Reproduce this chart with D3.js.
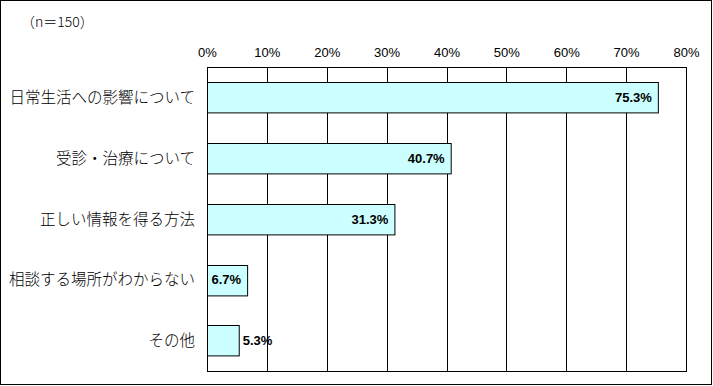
<!DOCTYPE html>
<html>
<head>
<meta charset="utf-8">
<script src="https://cdn.jsdelivr.net/npm/d3@7"></script>
<style>
  body { margin: 0; background: #fff; }
  svg text { font-family: "Noto Sans CJK JP", "Noto Sans", sans-serif; }
</style>
</head>
<body>
<script>
var categories = [ "日常生活への影響について", "受診・治療について", "正しい情報を得る方法", "相談する場所がわからない", "その他" ];
var values = [ 75.3, 40.7, 31.3, 6.7, 5.3 ];
var tickValues = [ 0, 10, 20, 30, 40, 50, 60, 70, 80 ];
var note = "（n＝150）";

var W = 713, H = 386;
var plotL = 207, plotR = 686, plotT = 67, plotB = 371;

var svg = d3.select( "body" )
  .append( "svg" )
  .attr( "width", W )
  .attr( "height", H );

svg.append( "rect" )
  .attr( "x", 0.5 ).attr( "y", 0.5 )
  .attr( "width", W - 2 ).attr( "height", H - 2 )
  .attr( "fill", "#fff" ).attr( "stroke", "#000" );

var x = d3.scaleLinear().domain( [ 0, 80 ] ).range( [ plotL, plotR ] );
var y = d3.scaleBand().domain( categories ).range( [ plotT, plotB ] ).paddingInner( 0.5 ).paddingOuter( 0.25 );

// grid
svg.append( "g" )
  .selectAll( "line" )
  .data( tickValues )
  .join( "line" )
  .attr( "x1", function( d ){ return Math.round( x( d ) ) + 0.5; } )
  .attr( "x2", function( d ){ return Math.round( x( d ) ) + 0.5; } )
  .attr( "y1", plotT ).attr( "y2", plotB )
  .attr( "stroke", "#000" );

svg.append( "rect" )
  .attr( "x", plotL + 0.5 ).attr( "y", plotT + 0.5 )
  .attr( "width", plotR - plotL ).attr( "height", plotB - plotT )
  .attr( "fill", "none" ).attr( "stroke", "#000" );

// top axis labels
var axis = d3.axisTop( x )
  .tickValues( tickValues )
  .tickSize( 0 )
  .tickPadding( 0 )
  .tickFormat( function( d ){ return d + "%"; } );
var gAxis = svg.append( "g" )
  .attr( "transform", "translate(0,57)" )
  .call( axis );
gAxis.select( ".domain" ).remove();
gAxis.selectAll( "text" )
  .attr( "font-size", 13 )
  .attr( "fill", "#000" )
  .style( "font-family", "'Liberation Sans', Arial, sans-serif" );

// bars
svg.append( "g" )
  .selectAll( "rect" )
  .data( values )
  .join( "rect" )
  .attr( "x", plotL + 0.5 )
  .attr( "y", function( d, i ){ return Math.round( y( categories[ i ] ) ) + 0.5; } )
  .attr( "width", function( d ){ return x( d ) - plotL; } )
  .attr( "height", y.bandwidth() )
  .attr( "fill", "#ccffff" )
  .attr( "stroke", "#000" );

// value labels
svg.append( "g" )
  .selectAll( "text" )
  .data( values )
  .join( "text" )
  .attr( "x", function( d ){ return d < 6 ? x( d ) + 4 : x( d ) - 6; } )
  .attr( "y", function( d, i ){ return y( categories[ i ] ) + y.bandwidth() / 2; } )
  .attr( "dy", "0.36em" )
  .attr( "text-anchor", function( d ){ return d < 6 ? "start" : "end"; } )
  .attr( "font-size", 13 )
  .attr( "font-weight", "bold" )
  .style( "font-family", "'Liberation Sans', Arial, sans-serif" )
  .text( function( d ){ return d.toFixed( 1 ) + "%"; } );

// category labels
svg.append( "g" )
  .selectAll( "text" )
  .data( categories )
  .join( "text" )
  .attr( "x", 195 )
  .attr( "y", function( d ){ return y( d ) + y.bandwidth() / 2; } )
  .attr( "dy", "0.36em" )
  .attr( "text-anchor", "end" )
  .attr( "font-size", 15.5 )
  .attr( "font-weight", 300 )
  .text( function( d ){ return d; } );

svg.append( "text" )
  .attr( "x", 21 ).attr( "y", 27 )
  .attr( "font-size", 14 )
  .attr( "font-weight", 300 )
  .text( note );
</script>
</body>
</html>
